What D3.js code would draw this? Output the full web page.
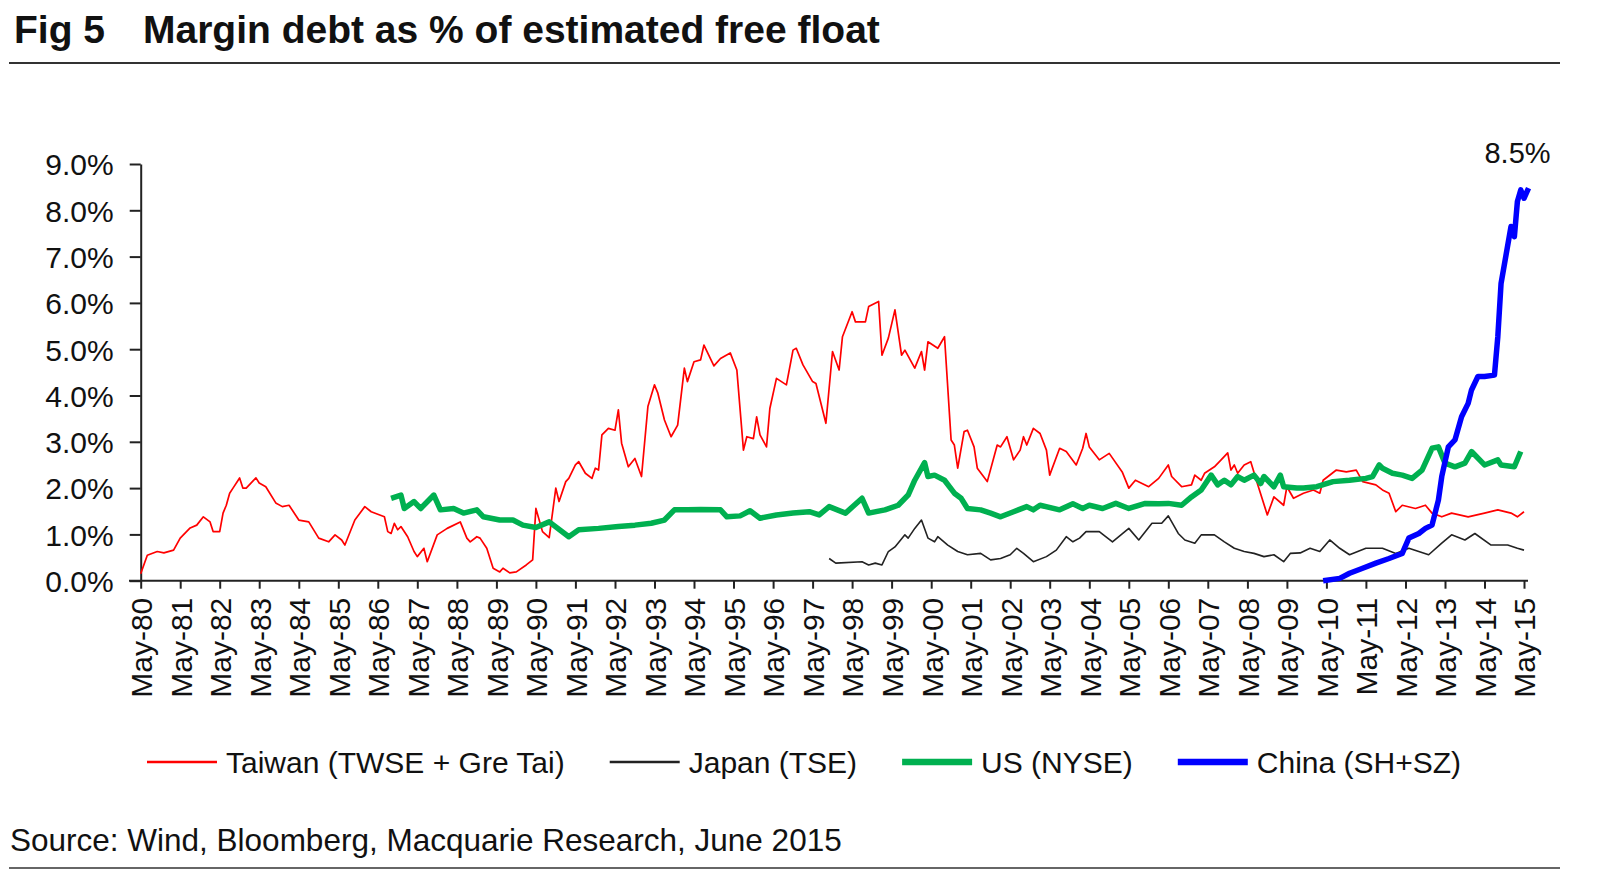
<!DOCTYPE html>
<html>
<head>
<meta charset="utf-8">
<script src="https://cdn.jsdelivr.net/npm/d3@7"></script>
<style>
  body { margin: 0; background: #fff; }
  text { font-family: "Liberation Sans", Arial, sans-serif; fill: #111; }
</style>
</head>
<body>
<div id="chart"></div>
<script>
/**
 * DATA (% of free float)
 * */
const taiwan = [
  ["1980-05",0.15],["1980-07",0.55],["1980-10",0.63],["1980-12",0.60],["1981-03",0.66],["1981-05",0.92],
  ["1981-08",1.14],["1981-10",1.20],["1981-12",1.38],["1982-02",1.27],["1982-03",1.06],["1982-05",1.06],
  ["1982-06",1.46],["1982-07",1.63],["1982-08",1.89],["1982-09",2.00],["1982-11",2.22],["1982-12",2.00],
  ["1983-01",2.00],["1983-04",2.22],["1983-05",2.11],["1983-07",2.03],["1983-10",1.68],["1983-12",1.60],
  ["1984-02",1.63],["1984-05",1.31],["1984-08",1.27],["1984-11",0.92],["1985-02",0.84],["1985-04",0.99],
  ["1985-06",0.88],["1985-07",0.77],["1985-10",1.31],["1986-01",1.60],["1986-03",1.49],["1986-07",1.38],
  ["1986-08",1.06],["1986-09",1.02],["1986-10",1.24],["1986-11",1.10],["1986-12",1.17],["1987-02",0.95],
  ["1987-04",0.63],["1987-05",0.52],["1987-07",0.70],["1987-08",0.41],["1987-11",0.99],["1988-02",1.13],
  ["1988-06",1.27],["1988-08",0.92],["1988-09",0.84],["1988-11",0.95],["1988-12",0.92],["1989-02",0.70],
  ["1989-04",0.27],["1989-06",0.19],["1989-07",0.27],["1989-09",0.17],["1989-11",0.19],["1990-02",0.34],
  ["1990-04",0.45],["1990-05",1.56],["1990-07",1.06],["1990-09",0.93],["1990-11",2.00],["1990-12",1.71],
  ["1991-02",2.14],["1991-03",2.21],["1991-05",2.50],["1991-06",2.57],["1991-08",2.32],["1991-10",2.21],
  ["1991-11",2.43],["1991-12",2.39],["1992-01",3.15],["1992-03",3.29],["1992-05",3.25],["1992-06",3.69],
  ["1992-07",2.97],["1992-09",2.46],["1992-11",2.64],["1993-01",2.25],["1993-03",3.76],["1993-05",4.23],
  ["1993-06",4.05],["1993-08",3.47],["1993-10",3.11],["1993-12",3.36],["1994-02",4.59],["1994-03",4.30],
  ["1994-05",4.73],["1994-07",4.77],["1994-08",5.09],["1994-11",4.64],["1995-01",4.80],["1995-04",4.92],
  ["1995-06",4.55],["1995-08",2.82],["1995-09",3.11],["1995-11",3.07],["1995-12",3.54],["1996-01",3.15],
  ["1996-03",2.89],["1996-04",3.72],["1996-06",4.37],["1996-09",4.23],["1996-11",4.98],["1996-12",5.02],
  ["1997-02",4.66],["1997-05",4.30],["1997-06",4.26],["1997-09",3.40],["1997-11",4.95],["1998-01",4.55],
  ["1998-02",5.27],["1998-05",5.81],["1998-06",5.59],["1998-09",5.59],["1998-10",5.92],["1999-01",6.03],
  ["1999-02",4.87],["1999-04",5.24],["1999-06",5.85],["1999-08",4.87],["1999-09",4.98],["1999-12",4.59],
  ["2000-02",4.95],["2000-03",4.55],["2000-04",5.16],["2000-07",5.02],["2000-09",5.27],["2000-11",3.04],
  ["2000-12",2.93],["2001-01",2.43],["2001-03",3.22],["2001-04",3.25],["2001-06",2.89],["2001-07",2.43],
  ["2001-10",2.14],["2002-01",2.93],["2002-02",2.89],["2002-04",3.11],["2002-06",2.61],["2002-08",2.82],
  ["2002-09",3.11],["2002-10",2.93],["2002-12",3.29],["2003-02",3.18],["2003-04",2.82],["2003-05",2.28],
  ["2003-08",2.86],["2003-10",2.79],["2004-01",2.50],["2004-03",2.86],["2004-04",3.18],["2004-05",2.89],
  ["2004-08",2.61],["2004-11",2.75],["2005-03",2.35],["2005-05",2.00],["2005-07",2.17],["2005-11",2.03],
  ["2006-02",2.21],["2006-05",2.50],["2006-06",2.25],["2006-09",2.03],["2006-12",2.07],["2007-01",2.28],
  ["2007-03",2.17],["2007-04",2.32],["2007-07",2.46],["2007-09",2.61],["2007-11",2.76],["2007-12",2.39],
  ["2008-01",2.50],["2008-02",2.32],["2008-04",2.50],["2008-06",2.57],["2008-08",2.10],["2008-11",1.42],
  ["2009-01",1.81],["2009-04",1.63],["2009-05",2.03],["2009-07",1.78],["2009-10",1.89],["2010-01",1.96],
  ["2010-03",1.89],["2010-04",2.17],["2010-08",2.39],["2010-11",2.35],["2011-02",2.39],["2011-04",2.14],
  ["2011-08",2.07],["2011-10",1.96],["2011-12",1.89],["2012-02",1.49],["2012-04",1.63],["2012-08",1.56],
  ["2012-11",1.63],["2013-01",1.46],["2013-04",1.38],["2013-07",1.46],["2013-12",1.38],["2014-05",1.46],
  ["2014-09",1.53],["2015-01",1.46],["2015-03",1.38],["2015-05",1.49]
];

const japan = [
  ["1997-10",0.48],["1997-12",0.38],["1998-08",0.41],["1998-10",0.34],["1998-12",0.38],["1999-02",0.34],
  ["1999-04",0.63],["1999-06",0.73],["1999-09",0.99],["1999-10",0.92],["1999-12",1.13],["2000-02",1.31],
  ["2000-04",0.92],["2000-06",0.84],["2000-07",0.95],["2000-10",0.77],["2001-01",0.63],["2001-04",0.56],
  ["2001-08",0.59],["2001-11",0.45],["2002-02",0.48],["2002-05",0.56],["2002-07",0.70],["2002-09",0.59],
  ["2002-12",0.41],["2003-04",0.52],["2003-07",0.66],["2003-10",0.95],["2003-12",0.84],["2004-02",0.92],
  ["2004-04",1.06],["2004-08",1.06],["2004-12",0.84],["2005-05",1.13],["2005-08",0.88],["2005-12",1.24],
  ["2006-03",1.24],["2006-05",1.40],["2006-08",1.02],["2006-10",0.88],["2007-01",0.81],["2007-03",0.99],
  ["2007-07",0.99],["2007-10",0.84],["2008-01",0.70],["2008-04",0.63],["2008-07",0.59],["2008-10",0.52],
  ["2009-01",0.56],["2009-04",0.41],["2009-06",0.59],["2009-09",0.60],["2009-12",0.70],["2010-03",0.63],
  ["2010-06",0.88],["2010-09",0.70],["2010-12",0.56],["2011-05",0.70],["2011-10",0.70],["2012-02",0.59],
  ["2012-06",0.70],["2012-12",0.56],["2013-04",0.81],["2013-07",0.99],["2013-11",0.88],["2014-02",1.02],
  ["2014-07",0.77],["2014-12",0.77],["2015-03",0.70],["2015-05",0.66]
];

const us = [
  ["1986-09",1.78],["1986-12",1.85],["1987-01",1.56],["1987-04",1.71],["1987-06",1.56],["1987-10",1.85],
  ["1987-12",1.53],["1988-04",1.56],["1988-07",1.46],["1988-11",1.53],["1989-01",1.38],["1989-06",1.31],
  ["1989-10",1.31],["1990-01",1.20],["1990-05",1.15],["1990-09",1.27],["1991-03",0.95],["1991-06",1.10],
  ["1991-12",1.13],["1992-06",1.17],["1992-11",1.20],["1993-04",1.24],["1993-08",1.31],["1993-11",1.53],
  ["1994-03",1.53],["1994-07",1.54],["1995-01",1.53],["1995-03",1.38],["1995-07",1.40],["1995-10",1.51],
  ["1996-01",1.35],["1996-06",1.42],["1996-11",1.46],["1997-04",1.49],["1997-07",1.42],["1997-10",1.60],
  ["1998-03",1.46],["1998-08",1.78],["1998-10",1.46],["1999-03",1.53],["1999-07",1.63],["1999-10",1.85],
  ["1999-12",2.17],["2000-03",2.55],["2000-04",2.25],["2000-06",2.28],["2000-09",2.17],["2000-12",1.89],
  ["2001-02",1.78],["2001-04",1.56],["2001-08",1.53],["2001-11",1.46],["2002-02",1.38],["2002-06",1.49],
  ["2002-10",1.60],["2002-12",1.53],["2003-02",1.63],["2003-08",1.53],["2003-12",1.66],["2004-03",1.56],
  ["2004-05",1.63],["2004-09",1.56],["2005-01",1.67],["2005-05",1.56],["2005-10",1.67],["2006-02",1.66],
  ["2006-05",1.67],["2006-09",1.63],["2006-12",1.81],["2007-03",1.96],["2007-06",2.28],["2007-08",2.07],
  ["2007-10",2.17],["2007-12",2.07],["2008-02",2.25],["2008-04",2.17],["2008-07",2.28],["2008-09",2.10],
  ["2008-10",2.25],["2009-01",2.03],["2009-03",2.28],["2009-04",2.03],["2009-08",2.00],["2009-10",2.00],
  ["2010-02",2.03],["2010-07",2.14],["2010-12",2.17],["2011-05",2.21],["2011-07",2.25],["2011-09",2.50],
  ["2011-10",2.43],["2012-01",2.32],["2012-04",2.28],["2012-07",2.21],["2012-10",2.39],["2013-01",2.86],
  ["2013-03",2.89],["2013-05",2.54],["2013-08",2.46],["2013-11",2.54],["2014-01",2.79],["2014-05",2.50],
  ["2014-09",2.61],["2014-10",2.50],["2015-02",2.46],["2015-04",2.79]
];

const china = [
  ["2010-04",0.00],["2010-09",0.05],["2010-12",0.16],["2011-04",0.27],["2011-08",0.38],["2011-12",0.48],
  ["2012-04",0.59],["2012-06",0.92],["2012-09",1.02],["2012-11",1.13],["2013-01",1.20],["2013-03",1.74],
  ["2013-04",2.25],["2013-06",2.89],["2013-08",3.04],["2013-10",3.54],["2013-12",3.83],["2014-01",4.12],
  ["2014-03",4.41],["2014-05",4.41],["2014-08",4.44],["2014-09",5.27],["2014-10",6.42],["2015-01",7.65],
  ["2015-02",7.43],["2015-03",8.19],["2015-04",8.44],["2015-05",8.26],["2015-06-12",8.48]
];

const seriesNames = ["Taiwan (TWSE + Gre Tai)", "Japan (TSE)", "US (NYSE)", "China (SH+SZ)"];
const yTicks = [0, 1, 2, 3, 4, 5, 6, 7, 8, 9];
const tickYears = d3.range(1980, 2016);
const lastLabel = "8.5%";

/**
 * CONSTANTS
 * */
const width = 1600, height = 893;
const colors = ["#ff0000", "#222222", "#00b050", "#0000ff"];
const strokes = [1.7, 1.6, 5.5, 5.5];

const parseDate = s => {
  const p = s.split("-").map(Number);
  return new Date(p[0], p[1] - 1, p[2] || 1);
};

const svg = d3.select("#chart")
  .append("svg")
  .attr("width", width)
  .attr("height", height);

// title + rules
svg.append("text")
  .attr("x", 14).attr("y", 43)
  .attr("font-size", 39).attr("font-weight", "bold")
  .text("Fig 5");
svg.append("text")
  .attr("x", 143).attr("y", 43)
  .attr("font-size", 39).attr("font-weight", "bold")
  .text("Margin debt as % of estimated free float");
svg.append("line")
  .attr("x1", 9).attr("x2", 1560).attr("y1", 63).attr("y2", 63)
  .attr("stroke", "#333").attr("stroke-width", 2);
svg.append("line")
  .attr("x1", 9).attr("x2", 1560).attr("y1", 868).attr("y2", 868)
  .attr("stroke", "#666").attr("stroke-width", 2);

// scales
const x = d3.scaleTime()
  .domain([new Date(1980, 4, 1), new Date(2015, 4, 1)])
  .range([140.7, 1524]);
const y = d3.scaleLinear()
  .domain([0, 9])
  .range([580.7, 164]);

// y axis
const yAxis = svg.append("g")
  .attr("transform", "translate(140.7,0)")
  .call(d3.axisLeft(y)
    .tickValues(yTicks)
    .tickSize(11)
    .tickSizeOuter(0)
    .tickPadding(16)
    .tickFormat(d => d.toFixed(1) + "%"));
yAxis.attr("font-size", 30).attr("font-family", null);
yAxis.selectAll("line, path").attr("stroke", "#222").attr("stroke-width", 2);
yAxis.selectAll("text").attr("dy", "0.36em");

// x axis
const xAxis = svg.append("g")
  .attr("transform", "translate(0,580.7)")
  .call(d3.axisBottom(x)
    .tickValues(tickYears.map(yr => new Date(yr, 4, 1)))
    .tickSize(8)
    .tickSizeOuter(0)
    .tickFormat(d3.timeFormat("%b-%y")));
xAxis.attr("font-size", 30).attr("font-family", null);
xAxis.select(".domain").remove();
xAxis.selectAll("line").attr("stroke", "#222").attr("stroke-width", 2);
xAxis.selectAll("text")
  .attr("transform", "rotate(-90)")
  .attr("text-anchor", "end")
  .attr("x", -17)
  .attr("y", 0)
  .attr("dy", "0.36em");
svg.append("line")
  .attr("x1", 129).attr("x2", 1528).attr("y1", 580.7).attr("y2", 580.7)
  .attr("stroke", "#222").attr("stroke-width", 2);

// lines
const allSeries = [taiwan, japan, us, china].map((rows, i) => ({
  name: seriesNames[i],
  color: colors[i],
  width: strokes[i],
  values: rows.map(r => ({ date: parseDate(r[0]), value: r[1] }))
}));

const line = d3.line()
  .x(d => x(d.date))
  .y(d => y(d.value));

svg.append("g")
  .selectAll("path")
  .data(allSeries)
  .join("path")
  .attr("fill", "none")
  .attr("stroke", d => d.color)
  .attr("stroke-width", d => d.width)
  .attr("stroke-linejoin", "round")
  .attr("d", d => line(d.values));

// end label for China
const chinaLast = allSeries[3].values[allSeries[3].values.length - 1];
svg.append("text")
  .attr("x", x(chinaLast.date) - 11)
  .attr("y", y(chinaLast.value) - 25)
  .attr("text-anchor", "middle")
  .attr("font-size", 29)
  .text(lastLabel);

// legend
const legend = svg.append("g").attr("transform", "translate(0,762)");
let lx = 147;
allSeries.forEach(s => {
  legend.append("line")
    .attr("x1", lx).attr("x2", lx + 70)
    .attr("stroke", s.color)
    .attr("stroke-width", s.width + 1);
  const t = legend.append("text")
    .attr("x", lx + 79)
    .attr("dy", "0.36em")
    .attr("font-size", 30)
    .text(s.name);
  lx += 79 + t.node().getComputedTextLength() + 45;
});

// source
svg.append("text")
  .attr("x", 10).attr("y", 851)
  .attr("font-size", 31.5)
  .text("Source: Wind, Bloomberg, Macquarie Research, June 2015");
</script>
</body>
</html>
